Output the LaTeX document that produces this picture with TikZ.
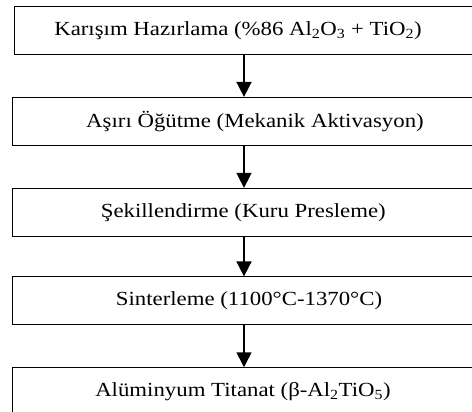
\documentclass[tikz,border=0pt]{standalone}
\usepackage{fontspec}
\setmainfont{Liberation Serif}[FakeStretch=1.14]
\usetikzlibrary{arrows.meta}
\tikzset{
    stepbox/.style={
        draw,
        line width=0.9pt,
        minimum width=464pt,
        minimum height=48pt,
        inner sep=0pt
    },
    steptext/.style={
        font=\fontsize{20}{24}\selectfont,
        inner sep=0pt
    },
    steparrow/.style={
        -{Triangle[length=15pt,width=15pt]},
        line width=1.6pt
    }
}

\begin{document}
\begin{tikzpicture}[x=1pt, y=-1pt]
                \useasboundingbox (0,0) rectangle (472,412);
                \clip (0,0) rectangle (472,412);

                \node [stepbox, minimum width=458.6pt, minimum height=47.3pt] (B1) at (244, 30.35) {};
                \node [stepbox] (B2) at (244, 121.35) {};
                \node [stepbox, minimum height=48.4pt] (B3) at (244, 212.5) {};
                \node [stepbox] (B4) at (244, 300.85) {};
                \node [stepbox] (B5) at (244, 391.7) {};

                \node [steptext] (T1) at (238, 30.35) {Karışım Hazırlama (\%86 Al\textsubscript{2}O\textsubscript{3} + TiO\textsubscript{2})};
                \node [steptext] (T2) at (255, 121.35) {Aşırı Öğütme (Mekanik Aktivasyon)};
                \node [steptext] (T3) at (243.3, 212.5) {Şekillendirme (Kuru Presleme)};
                \node [steptext] (T4) at (249, 300.85) {Sinterleme (1100°C-1370°C)};
                \node [steptext] (T5) at (243, 391.7) {Alüminyum Titanat (β-Al\textsubscript{2}TiO\textsubscript{5})};

                \foreach \from/\to in {B1/B2, B2/B3, B3/B4, B4/B5}
                    \draw [steparrow] (\from) -- (\to);
\end{tikzpicture}
\end{document}
